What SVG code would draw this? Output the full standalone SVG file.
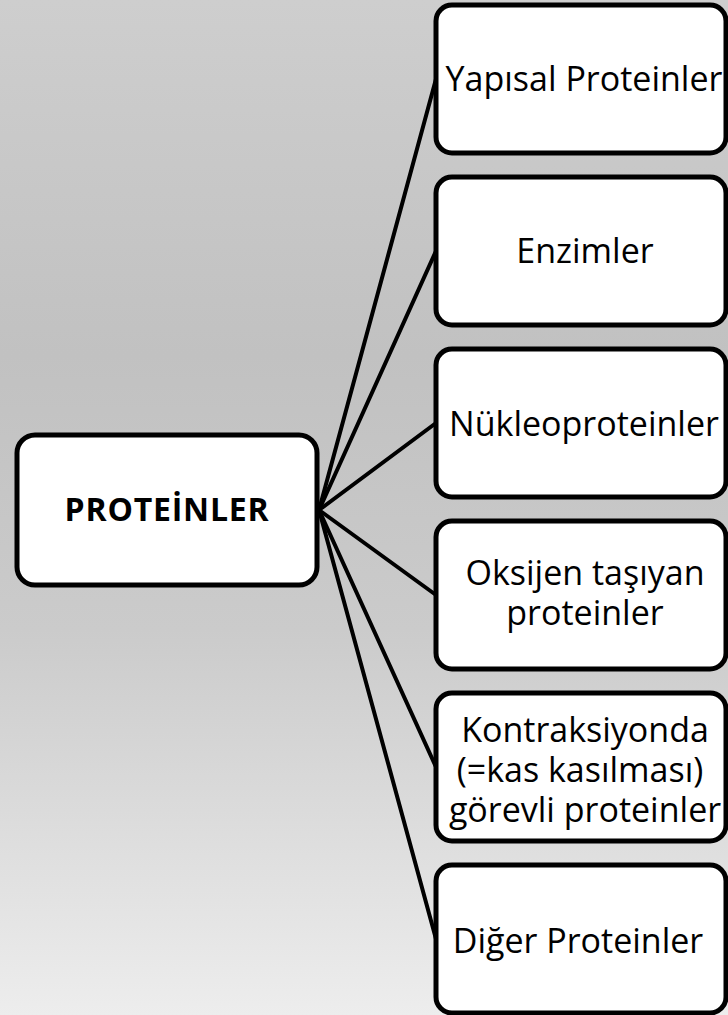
<svg xmlns="http://www.w3.org/2000/svg" width="728" height="1015" viewBox="0 0 728 1015">
  <defs>
    <linearGradient id="bg" x1="0" y1="0" x2="0" y2="1">
      <stop offset="0" stop-color="#cecece"/>
      <stop offset="0.35" stop-color="#c1c1c1"/>
      <stop offset="0.62" stop-color="#cbcbcb"/>
      <stop offset="1" stop-color="#ededed"/>
    </linearGradient>
    <style>
      .box { fill: #ffffff; stroke: #000000; stroke-width: 5; }
      .conn { stroke: #000000; stroke-width: 4; fill: none; stroke-linecap: round; }
      .t { font-family: "Open Sans", "Noto Sans", "DejaVu Sans", sans-serif; font-size: 34px; fill: #000000; text-anchor: middle; }
      .tb { font-family: "Open Sans", "Noto Sans", "DejaVu Sans", sans-serif; font-size: 32px; font-weight: bold; letter-spacing: 0.8px; fill: #000000; text-anchor: middle; }
    </style>
  </defs>
  <rect x="0" y="0" width="728" height="1015" fill="url(#bg)"/>
  <g id="connectors">
    <line class="conn" x1="319" y1="510" x2="436" y2="79"/>
    <line class="conn" x1="319" y1="510" x2="436" y2="251"/>
    <line class="conn" x1="319" y1="510" x2="436" y2="423"/>
    <line class="conn" x1="319" y1="510" x2="436" y2="595"/>
    <line class="conn" x1="319" y1="510" x2="436" y2="767"/>
    <line class="conn" x1="319" y1="510" x2="436" y2="939"/>
  </g>
  <g id="node-proteinler">
    <rect class="box" x="17" y="435" width="300" height="150" rx="18"/>
    <text class="tb" x="167" y="521">PROTEİNLER</text>
  </g>
  <g id="node-yapisal">
    <rect class="box" x="436" y="5" width="290" height="148" rx="16"/>
    <text class="t" x="584" y="91">Yapısal Proteinler</text>
  </g>
  <g id="node-enzimler">
    <rect class="box" x="436" y="177" width="290" height="148" rx="16"/>
    <text class="t" x="585" y="263">Enzimler</text>
  </g>
  <g id="node-nukleo">
    <rect class="box" x="436" y="349" width="290" height="148" rx="16"/>
    <text class="t" x="584" y="436">Nükleoproteinler</text>
  </g>
  <g id="node-oksijen">
    <rect class="box" x="436" y="521" width="290" height="148" rx="16"/>
    <text class="t" x="585" y="585">Oksijen taşıyan</text>
    <text class="t" x="585" y="625">proteinler</text>
  </g>
  <g id="node-kontraksiyon">
    <rect class="box" x="436" y="693" width="290" height="148" rx="16"/>
    <text class="t" x="585" y="742">Kontraksiyonda</text>
    <text class="t" x="580" y="782">(=kas kasılması)</text>
    <text class="t" x="585" y="822">görevli proteinler</text>
  </g>
  <g id="node-diger">
    <rect class="box" x="436" y="865" width="290" height="148" rx="16"/>
    <text class="t" x="578" y="953">Diğer Proteinler</text>
  </g>
</svg>
